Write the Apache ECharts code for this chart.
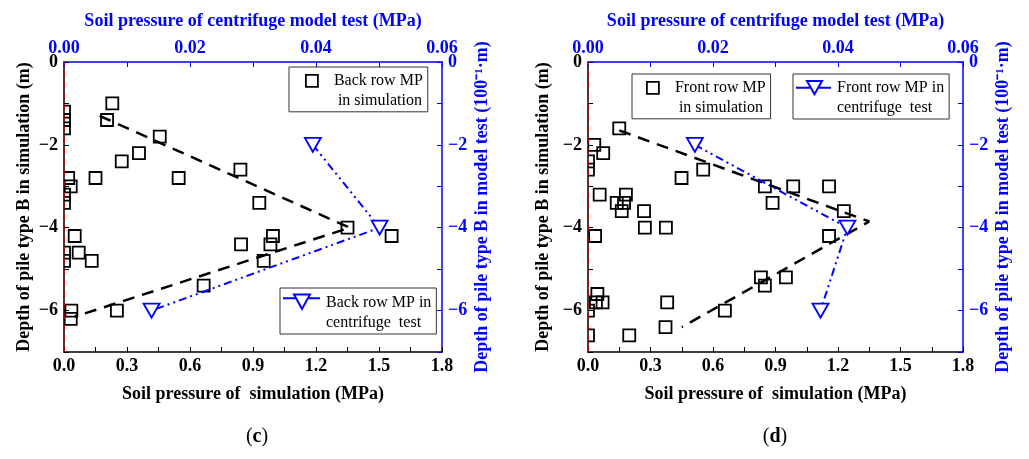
<!DOCTYPE html>
<html>
<head>
<meta charset="utf-8">
<script src="https://cdn.jsdelivr.net/npm/echarts@6/dist/echarts.min.js"></script>
<style>
  html, body { margin: 0; padding: 0; background: #fff; }
  #chart { width: 1029px; height: 459px; }
</style>
</head>
<body>
<div id="chart"></div>
<script>
// (c) back row, simulation points
const backSimX = [0.23, 0.205, 0, 0, 0, 0.456, 0.357, 0.275, 0.15, 0.546, 0.84, 0.02, 0.032, 0, 0, 0.93,
  1.35, 1.56, 0.995, 0.983, 0.843, 0.951, 0.051, 0.07, 0, 0, 0.132, 0.665, 0.252, 0.035, 0.032]
const backSimY = [-1.0, -1.4, -1.2, -1.4, -1.6, -1.8, -2.2, -2.4, -2.8, -2.8, -2.6, -2.8, -3.0, -3.2, -3.4, -3.4,
  -4.0, -4.2, -4.2, -4.4, -4.4, -4.8, -4.2, -4.6, -4.6, -4.8, -4.8, -5.4, -6.0, -6.0, -6.2]
// (c) dashed trend
const backFitX = [0.17, 1.36, 0.05]
const backFitY = [-1.3, -4.0, -6.15]
// (c) centrifuge test (top / right axes)
const backCfX = [0.0395, 0.0501, 0.0139]
const backCfY = [-2, -4, -6]

// (d) front row, simulation points
const frontSimX = [0.15, 0.03, 0.073, 0, 0, 0.449, 0.553, 0.849, 0.985, 1.157, 0.056, 0.182, 0.138, 0.173, 0.162,
  0.269, 0.886, 1.228, 0.273, 0.374, 0.034, 1.157, 0.83, 0.95, 0.849, 0.045, 0.38, 0.07, 0.038, 0, 0.657, 0.372,
  0.198, 0]
const frontSimY = [-1.6, -2.0, -2.2, -2.4, -2.6, -2.8, -2.6, -3.0, -3.0, -3.0, -3.2, -3.2, -3.4, -3.4, -3.6,
  -3.6, -3.4, -3.6, -4.0, -4.0, -4.2, -4.2, -5.2, -5.2, -5.4, -5.6, -5.8, -5.8, -5.8, -6.0, -6.0, -6.4,
  -6.6, -6.6]
const frontFitX = [0.15, 1.35, 0.45]
const frontFitY = [-1.65, -3.85, -6.4]
const frontCfX = [0.0171, 0.0415, 0.0372]
const frontCfY = [-2, -4, -6]

const simTitle = 'Soil pressure of  simulation (MPa)'
const cfTitle = 'Soil pressure of centrifuge model test (MPa)'
const leftTitle = 'Depth of pile type B in simulation (m)'
const rightTitle = 'Depth of pile type B in model test (100\u207B\u00B9\u00B7m)'
const captions = ['(c)', '(d)']

const backSimName = 'Back row MP\n in simulation'
const backCfName = 'Back row MP in\ncentrifuge  test'
const frontSimName = 'Front row MP\n in simulation'
const frontCfName = 'Front row MP in\ncentrifuge  test'

const FONT = 'Liberation Serif'
const BLUE = '#0000ff'
const zip = (xs, ys) => xs.map((x, i) => [x, ys[i]])

const labelStyle = color => ({
  fontFamily: FONT, fontWeight: 'bold', fontSize: 18, color
})
const depthFmt = v => (v % 2 === 0 ? (v < 0 ? '\u2212' + (-v) : '0') : '')

const xBottom = g => ({
  type: 'value', gridIndex: g, position: 'bottom', min: 0, max: 1.8, interval: 0.3,
  name: simTitle, nameLocation: 'middle', nameGap: 33, nameTextStyle: labelStyle('#000'),
  axisLine: { show: true, onZero: false, lineStyle: { color: '#000', width: 1.5 } },
  axisTick: { show: true, inside: true, length: 5, lineStyle: { color: '#000' } },
  minorTick: { show: true, splitNumber: 2, length: 5, lineStyle: { color: '#000' } },
  splitLine: { show: false },
  axisLabel: { ...labelStyle('#000'), margin: 5, formatter: v => v.toFixed(1) },
})
const xTop = g => ({
  type: 'value', gridIndex: g, position: 'top', min: 0, max: 0.06, interval: 0.02,
  name: cfTitle, nameLocation: 'middle', nameGap: 32, nameTextStyle: labelStyle(BLUE),
  axisLine: { show: true, onZero: false, lineStyle: { color: BLUE, width: 1.5 } },
  axisTick: { show: true, inside: true, length: 5, lineStyle: { color: BLUE } },
  minorTick: { show: true, splitNumber: 2, length: 5, lineStyle: { color: BLUE } },
  splitLine: { show: false },
  axisLabel: { ...labelStyle(BLUE), margin: 5, formatter: v => v.toFixed(2) },
})
const yLeft = (g, gap) => ({
  type: 'value', gridIndex: g, position: 'left', min: -7, max: 0, interval: 1,
  name: leftTitle, nameLocation: 'middle', nameRotate: 90, nameGap: gap, nameTextStyle: labelStyle('#000'),
  axisLine: { show: true, onZero: false, lineStyle: { color: '#000', width: 1.5 } },
  axisTick: { show: true, inside: true, length: 5, lineStyle: { color: '#000' } },
  splitLine: { show: false },
  axisLabel: { ...labelStyle('#000'), margin: 6, formatter: depthFmt },
})
const yRight = g => ({
  type: 'value', gridIndex: g, position: 'right', min: -7, max: 0, interval: 1,
  name: rightTitle, nameLocation: 'middle', nameRotate: 90, nameGap: 31, nameTextStyle: labelStyle(BLUE),
  axisLine: { show: true, onZero: false, lineStyle: { color: BLUE, width: 1.5 } },
  axisTick: { show: true, inside: true, length: 5, lineStyle: { color: BLUE } },
  splitLine: { show: false },
  axisLabel: { ...labelStyle(BLUE), margin: 6, formatter: depthFmt },
})

// open squares, clipped to the plot area like the original
const simSeries = (name, xs, ys, axis) => ({
  type: 'custom', name, xAxisIndex: axis, yAxisIndex: axis, z: 4, clip: true,
  renderItem: (params, api) => {
    const p = api.coord([api.value(0), api.value(1)])
    return {
      type: 'rect',
      shape: { x: p[0] - 6, y: p[1] - 6, width: 12, height: 12 },
      style: { fill: 'none', stroke: '#000', lineWidth: 1.8 },
    }
  },
  data: zip(xs, ys),
  markLine: {
    silent: true, symbol: ['none', 'none'], label: { show: false },
    lineStyle: { color: '#c00000', type: [6, 5], width: 1.5 },
    emphasis: { disabled: true },
    data: [{ xAxis: 0 }],
  },
})
const fitSeries = (xs, ys, axis) => ({
  type: 'line', name: 'fit' + axis, xAxisIndex: axis, yAxisIndex: axis, z: 3,
  symbol: 'none', silent: true,
  lineStyle: { color: '#000', width: 2.5, type: [12, 8] },
  data: zip(xs, ys),
})
const cfSeries = (name, xs, ys, axis) => ({
  type: 'line', name, xAxisIndex: axis, yAxisIndex: axis, z: 5,
  symbol: 'triangle', symbolRotate: 180, symbolSize: [16, 14], showSymbol: true,
  itemStyle: { color: '#fff', borderColor: BLUE, borderWidth: 1.8 },
  lineStyle: { color: BLUE, width: 2, type: [8, 4, 2, 4, 2, 4] },
  data: zip(xs, ys),
})

const legendBase = {
  orient: 'vertical', selectedMode: false, itemHeight: 40,
  borderColor: '#333', borderWidth: 1, backgroundColor: '#fff',
  textStyle: { fontFamily: FONT, fontSize: 16, lineHeight: 20, color: '#000' },
}
const simIcon = (w, x0) =>
  `path://M0,0M${w},40M${x0},4L${x0 + 12},4L${x0 + 12},16L${x0},16Z`
const cfIcon = (w, a, b, c, ly, ty, tb) => {
  const lx = a + (c - a) * (ly - ty) / (tb - ty)
  const rx = b - (b - c) * (ly - ty) / (tb - ty)
  return `path://M0,0M${w},40M0,${ly}L${lx},${ly}M${a},${ty}L${b},${ty}L${c},${tb}ZM${rx},${ly}L${w - 1},${ly}`
}
const simItem = (name, icon) => ({
  name, icon, itemStyle: { color: 'rgba(0,0,0,0)', borderColor: '#000', borderWidth: 1.8 }
})
const cfItem = (name, icon) => ({
  name, icon, itemStyle: { color: 'rgba(0,0,0,0)', borderColor: BLUE, borderWidth: 2 }
})

const option = {
  backgroundColor: '#fff',
  animation: false,
  grid: [
    { left: 64, top: 62, width: 378, height: 290 },
    { left: 588, top: 62, width: 375, height: 290 },
  ],
  xAxis: [xBottom(0), xTop(0), xBottom(1), xTop(1)],
  yAxis: [yLeft(0, 31), yRight(0), yLeft(1, 36), yRight(1)],
  legend: [
    { ...legendBase, left: 289, top: 67, padding: [3, 5, 0, 4], itemWidth: 35,
      data: [simItem(backSimName, simIcon(35, 12))] },
    { ...legendBase, left: 280, top: 288, padding: [4, 5, 0, 2], itemWidth: 38,
      data: [cfItem(backCfName, cfIcon(38, 11, 27, 19, 5.3, 1.5, 16))] },
    { ...legendBase, left: 632, top: 74, padding: [3, 5, 0, 4], itemWidth: 33,
      data: [simItem(frontSimName, simIcon(33, 10))] },
    { ...legendBase, left: 793, top: 74, padding: [3, 5, 0, 2], itemWidth: 36,
      data: [cfItem(frontCfName, cfIcon(36, 11, 26, 18.5, 9.7, 3, 16.3))] },
  ],
  graphic: captions.map((t, i) => ({
    type: 'text', x: [257, 775][i], y: 437,
    style: {
      text: '(' + '{b|' + t.slice(1, 2) + '})',
      font: '20px "Liberation Serif"', fill: '#000', align: 'center', verticalAlign: 'middle',
      rich: { b: { fontFamily: FONT, fontSize: 20, fontWeight: 'bold', fill: '#000' } },
    },
  })),
  series: [
    fitSeries(backFitX, backFitY, 0),
    simSeries(backSimName, backSimX, backSimY, 0),
    cfSeries(backCfName, backCfX, backCfY, 1),
    fitSeries(frontFitX, frontFitY, 2),
    simSeries(frontSimName, frontSimX, frontSimY, 2),
    cfSeries(frontCfName, frontCfX, frontCfY, 3),
  ],
}

const chart = echarts.init(document.getElementById('chart'))
chart.setOption(option)
</script>
</body>
</html>
